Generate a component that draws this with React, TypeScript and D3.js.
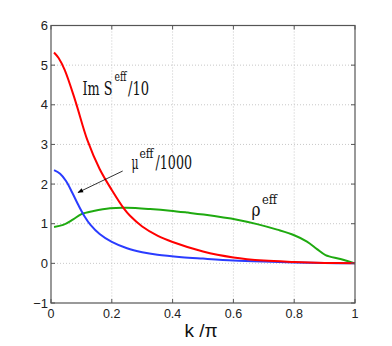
import React from "react";
import * as d3 from "d3";

// k/pi sample positions and values
const kIm = [0.01, 0.025, 0.045, 0.08, 0.12, 0.16, 0.2, 0.24, 0.26, 0.3, 0.35, 0.4, 0.5, 0.6, 0.7, 0.8, 0.9, 1];
const imS = [5.32, 5.18, 4.88, 4.1, 3.1, 2.38, 1.85, 1.38, 1.2, 0.93, 0.7, 0.54, 0.3, 0.15, 0.07, 0.035, 0.012, 0];

const kMu = [0.01, 0.03, 0.05, 0.07, 0.09, 0.11, 0.13, 0.16, 0.2, 0.25, 0.3, 0.35, 0.43, 0.5, 0.6, 0.7, 0.8, 0.9, 1];
const mu = [2.35, 2.26, 2.07, 1.78, 1.47, 1.19, 0.97, 0.74, 0.54, 0.38, 0.28, 0.215, 0.155, 0.12, 0.075, 0.045, 0.022, 0.01, 0];

const kRho = [0.01, 0.04, 0.073, 0.1, 0.14, 0.194, 0.249, 0.326, 0.392, 0.45, 0.502, 0.612, 0.678, 0.744, 0.8, 0.842, 0.875, 0.903, 0.952, 1];
const rho = [0.92, 0.97, 1.11, 1.24, 1.32, 1.39, 1.4, 1.37, 1.33, 1.28, 1.23, 1.1, 0.99, 0.85, 0.71, 0.55, 0.36, 0.21, 0.11, 0];

const xTicks = [0, 0.2, 0.4, 0.6, 0.8, 1];
const yTicks = [-1, 0, 1, 2, 3, 4, 5, 6];

const left = 51, right = 355, top = 25.5, bottom = 303;

// one piece of a curve label: [text, x, baseline, width, size]
type Piece = [string, number, number, number, number];
const labelPieces: Piece[] = [
  ["Im S", 82.5, 95, 30, 19],
  ["eff", 114.5, 81, 12, 13],
  ["/10", 128, 95, 21, 19],
  ["μ", 131.5, 169, 7, 19],
  ["eff", 139.5, 158, 14, 13],
  ["/1000", 155.5, 169, 36.5, 19],
  ["ρ", 251.5, 216, 9, 19],
  ["eff", 262, 204, 15, 13],
];

export default function App() {
  const x = d3.scaleLinear().domain([0, 1]).range([left, right]);
  const y = d3.scaleLinear().domain([-1, 6]).range([bottom, top]);

  const mk = (ks: number[], vs: number[]) =>
    d3.line<number>()
      .x((_, i) => x(ks[i]))
      .y((v) => y(v))
      .curve(d3.curveCatmullRom.alpha(0.5))(vs) as string;

  const axisColor = "#555";
  const tickFont = "'Liberation Sans', Arial, sans-serif";
  const serifStyle = { fontFamily: "'DejaVu Serif', serif" };

  return (
    <svg width={392} height={346} style={{ position: "absolute", left: 0, top: 0 }}>
      <rect width={392} height={346} fill="white" />
      <defs>
        <marker id="arr" viewBox="0 0 10 10" refX="9" refY="5" markerWidth="9" markerHeight="7" orient="auto">
          <path d="M0,1 L10,5 L0,9 z" fill="black" />
        </marker>
      </defs>
      {/* grid */}
      {xTicks.slice(1, -1).map((t) => (
        <line key={"gx" + t} x1={x(t)} x2={x(t)} y1={top} y2={bottom} stroke="#c8c8c8" strokeDasharray="1,2" />
      ))}
      {yTicks.slice(1, -1).map((t) => (
        <line key={"gy" + t} x1={left} x2={right} y1={y(t)} y2={y(t)} stroke="#c8c8c8" strokeDasharray="1,2" />
      ))}
      {/* curves */}
      <path d={mk(kRho, rho)} fill="none" stroke="#1faa10" strokeWidth={2} />
      <path d={mk(kMu, mu)} fill="none" stroke="#2a3cff" strokeWidth={2} />
      <path d={mk(kIm, imS)} fill="none" stroke="#ff0000" strokeWidth={2} />
      {/* box */}
      <rect x={left} y={top} width={right - left} height={bottom - top} fill="none" stroke={axisColor} strokeWidth={1.2} />
      {/* ticks */}
      {xTicks.map((t) => (
        <g key={"tx" + t}>
          <line x1={x(t)} x2={x(t)} y1={bottom} y2={bottom - 4} stroke={axisColor} />
          <line x1={x(t)} x2={x(t)} y1={top} y2={top + 4} stroke={axisColor} />
          <text x={x(t)} y={318} textAnchor="middle" fontFamily={tickFont} fontSize={12.5} fill="#222">{t}</text>
        </g>
      ))}
      {yTicks.map((t) => (
        <g key={"ty" + t}>
          <line x1={left} x2={left + 4} y1={y(t)} y2={y(t)} stroke={axisColor} />
          <line x1={right} x2={right - 4} y1={y(t)} y2={y(t)} stroke={axisColor} />
          <text x={48} y={y(t) + 4.5} textAnchor="end" fontFamily={tickFont} fontSize={13} fill="#222">{t < 0 ? "\u2212" + Math.abs(t) : t}</text>
        </g>
      ))}
      {/* x label */}
      <text x={201} y={337} textAnchor="middle" fontFamily={tickFont} fontSize={19} fill="#111">k /π</text>
      {/* curve labels */}
      {labelPieces.map(([s, px, py, w, fs], i) => (
        <text key={"lb" + i} x={px} y={py} style={serifStyle} fontSize={fs} fill="#111"
          textLength={w} lengthAdjust="spacingAndGlyphs">{s}</text>
      ))}
      <line x1={122.7} y1={171} x2={78} y2={192.5} stroke="black" strokeWidth={0.8} markerEnd="url(#arr)" />
    </svg>
  );
}
